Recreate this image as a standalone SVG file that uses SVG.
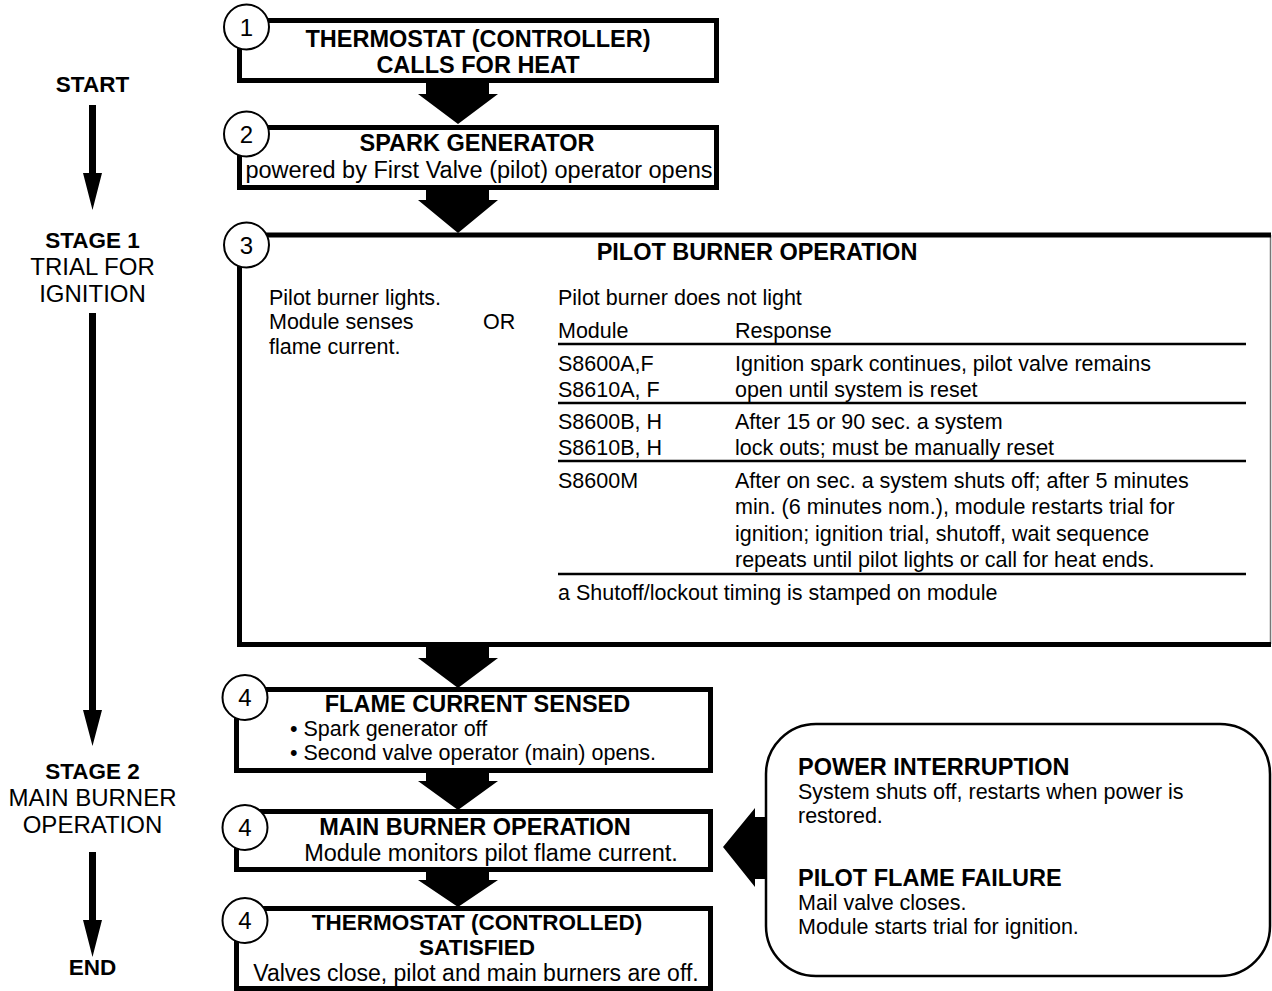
<svg xmlns="http://www.w3.org/2000/svg" width="1272" height="991" viewBox="0 0 1272 991">
<style>
text{font-family:"Liberation Sans",Arial,Helvetica,sans-serif;fill:#000}
.b{font-weight:bold;font-size:23.5px}
.b2{font-weight:bold;font-size:22.5px}
.r{font-size:23.5px}
.t{font-size:21.5px}
.lb{font-weight:bold;font-size:22.5px}
.lr{font-size:24px}
.num{font-size:24px;text-anchor:middle}
.c{text-anchor:middle}
.box{fill:#fff;stroke:#000;stroke-width:5}
.circ{fill:#fff;stroke:#000;stroke-width:2}
.rule{stroke:#000;stroke-width:2.5}
.blk{fill:#000;stroke:none}
</style>
<rect x="0" y="0" width="1272" height="991" fill="#fff"/>

<g id="connectors">
  <polygon class="blk" points="426,82 489,82 489,94 498,94 458,124 418,94 426,94"/>
  <polygon class="blk" points="426,189 489,189 489,200 498,200 458,233 418,200 426,200"/>
  <polygon class="blk" points="426,646 489,646 489,658 498,658 458,688 418,658 426,658"/>
  <polygon class="blk" points="426,772 489,772 489,781 498,781 458,810 418,781 426,781"/>
  <polygon class="blk" points="426,871 489,871 489,880 498,880 458,907 418,880 426,880"/>
  <polygon class="blk" points="723,847 755,808 755,817 767,817 767,879 755,879 755,887"/>
  <polygon class="blk" points="89,105 96,105 96,173 102,173 92.5,210 83,173 89,173"/>
  <polygon class="blk" points="89,313 96,313 96,710 102,710 92.5,746 83,710 89,710"/>
  <polygon class="blk" points="89,852 96,852 96,920 102,920 92.5,957 83,920 89,920"/>
</g>

<g id="stage-labels">
  <text class="lb c" x="92.5" y="92">START</text>
  <text class="lb c" x="92.5" y="248">STAGE 1</text>
  <text class="lr c" x="92.5" y="275">TRIAL FOR</text>
  <text class="lr c" x="92.5" y="302">IGNITION</text>
  <text class="lb c" x="92.5" y="779">STAGE 2</text>
  <text class="lr c" x="92.5" y="806">MAIN BURNER</text>
  <text class="lr c" x="92.5" y="833">OPERATION</text>
  <text class="lb c" x="92.5" y="975">END</text>
</g>

<g id="node1">
  <rect class="box" x="239.5" y="20.5" width="477" height="60"/>
  <circle class="circ" cx="246.5" cy="27" r="22.5"/>
  <text class="num" x="246.5" y="35.5">1</text>
  <text class="b c" x="478" y="46.5">THERMOSTAT (CONTROLLER)</text>
  <text class="b c" x="478" y="73">CALLS FOR HEAT</text>
</g>

<g id="node2">
  <rect class="box" x="239.5" y="127.5" width="477" height="60"/>
  <circle class="circ" cx="246.5" cy="134" r="22.5"/>
  <text class="num" x="246.5" y="142.5">2</text>
  <text class="b c" x="477" y="151">SPARK GENERATOR</text>
  <text class="r c" x="479" y="177.5">powered by First Valve (pilot) operator opens</text>
</g>

<g id="node3">
  <rect x="239.5" y="235" width="1031" height="409.5" fill="#fff"/>
  <line x1="1270.5" y1="235" x2="1270.5" y2="644" stroke="#777" stroke-width="1.5"/>
  <path d="M1271,235 H239.5 V644.5 H1271" fill="none" stroke="#000" stroke-width="5"/>
  <circle class="circ" cx="246.5" cy="245" r="22.5"/>
  <text class="num" x="246.5" y="253.5">3</text>
  <text class="b c" x="757" y="260">PILOT BURNER OPERATION</text>
  <text class="t" x="269" y="305">Pilot burner lights.</text>
  <text class="t" x="269" y="329">Module senses</text>
  <text class="t" x="269" y="354">flame current.</text>
  <text class="t" x="483" y="329">OR</text>
  <text class="t" x="558" y="305">Pilot burner does not light</text>
  <text class="t" x="558" y="338">Module</text>
  <text class="t" x="735" y="338">Response</text>
  <line class="rule" x1="558" y1="344" x2="1246" y2="344"/>
  <text class="t" x="558" y="371">S8600A,F</text>
  <text class="t" x="558" y="397">S8610A, F</text>
  <text class="t" x="735" y="371">Ignition spark continues, pilot valve remains</text>
  <text class="t" x="735" y="397">open until system is reset</text>
  <line class="rule" x1="558" y1="403" x2="1246" y2="403"/>
  <text class="t" x="558" y="429">S8600B, H</text>
  <text class="t" x="558" y="455">S8610B, H</text>
  <text class="t" x="735" y="429">After 15 or 90 sec. a system</text>
  <text class="t" x="735" y="455">lock outs; must be manually reset</text>
  <line class="rule" x1="558" y1="461" x2="1246" y2="461"/>
  <text class="t" x="558" y="488">S8600M</text>
  <text class="t" x="735" y="488">After on sec. a system shuts off; after 5 minutes</text>
  <text class="t" x="735" y="514">min. (6 minutes nom.), module restarts trial for</text>
  <text class="t" x="735" y="541">ignition; ignition trial, shutoff, wait sequence</text>
  <text class="t" x="735" y="567">repeats until pilot lights or call for heat ends.</text>
  <line class="rule" x1="558" y1="574" x2="1246" y2="574"/>
  <text class="t" x="558" y="600">a Shutoff/lockout timing is stamped on module</text>
</g>

<g id="node4a">
  <rect class="box" x="236.5" y="689.5" width="474" height="81"/>
  <circle class="circ" cx="245" cy="697.5" r="22.5"/>
  <text class="num" x="245" y="706">4</text>
  <text class="b c" x="477.5" y="712">FLAME CURRENT SENSED</text>
  <text class="t" x="290" y="736">• Spark generator off</text>
  <text class="t" x="290" y="760">• Second valve operator (main) opens.</text>
</g>

<g id="node4b">
  <rect class="box" x="236.5" y="811.5" width="474" height="58"/>
  <circle class="circ" cx="245" cy="827.5" r="22.5"/>
  <text class="num" x="245" y="836">4</text>
  <text class="b c" x="475" y="835">MAIN BURNER OPERATION</text>
  <text class="r c" x="491" y="861">Module monitors pilot flame current.</text>
</g>

<g id="node4c">
  <rect class="box" x="236.5" y="908.5" width="474" height="80"/>
  <circle class="circ" cx="245" cy="920.5" r="22.5"/>
  <text class="num" x="245" y="929">4</text>
  <text class="b2 c" x="477" y="930">THERMOSTAT (CONTROLLED)</text>
  <text class="b2 c" x="477" y="955">SATISFIED</text>
  <text class="c" x="476" y="981" style="font-size:23px">Valves close, pilot and main burners are off.</text>
</g>

<g id="node-notes">
  <rect x="766" y="724" width="504" height="252" rx="50" ry="50" fill="#fff" stroke="#000" stroke-width="2.5"/>
  <text class="b" x="798" y="775">POWER INTERRUPTION</text>
  <text class="t" x="798" y="799">System shuts off, restarts when power is</text>
  <text class="t" x="798" y="823">restored.</text>
  <text class="b" x="798" y="886">PILOT FLAME FAILURE</text>
  <text class="t" x="798" y="910">Mail valve closes.</text>
  <text class="t" x="798" y="934">Module starts trial for ignition.</text>
</g>
</svg>
